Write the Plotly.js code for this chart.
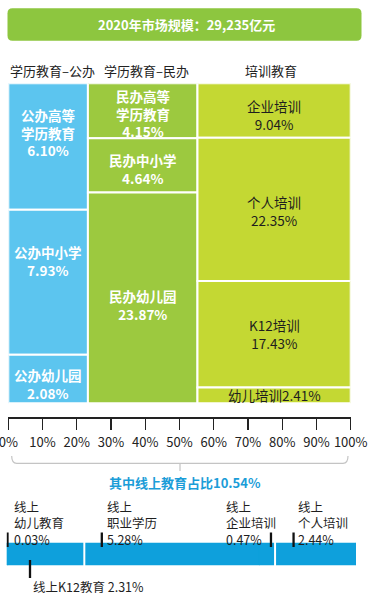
<!DOCTYPE html>
<html>
<head>
<meta charset="utf-8">
<script src="https://cdn.plot.ly/plotly-3.0.1.min.js"></script>
<style>html,body{margin:0;padding:0;background:#fff;}#chart{width:370px;height:598px;}</style>
</head>
<body>
<div id="chart"></div>
<script>
// ---------- data ----------
const marketTitle = '2020年市场规模：29,235亿元';
const colNames = ['学历教育–公办', '学历教育–民办', '培训教育'];
// column widths (% of axis) as drawn in the reference
const colWidth = [23.25, 32.0, 44.75];
// cells, top to bottom within each column
const cellCol = [0, 0, 0, 1, 1, 1, 2, 2, 2, 2];
const cellName = ['公办高等<br>学历教育', '公办中小学', '公办幼儿园',
                  '民办高等<br>学历教育', '民办中小学', '民办幼儿园',
                  '企业培训', '个人培训', 'K12培训', '幼儿培训'];
const cellValue = [6.10, 7.93, 2.08, 4.15, 4.64, 23.87, 9.04, 22.35, 17.43, 2.41];
// drawn heights (% of column) as they appear in the reference
const cellDrawn = [39.5, 45.3, 15.2, 17.2, 16.9, 65.9, 17.0, 44.8, 33.3, 4.9];
const xTickVals = [0, 10, 20, 30, 40, 50, 60, 70, 80, 90, 100];

const onlineTitle = '其中线上教育占比10.54%';
const onlineName = ['线上<br>幼儿教育', '线上K12教育', '线上<br>职业学历', '线上<br>企业培训', '线上<br>个人培训'];
const onlineValue = [0.03, 2.31, 5.28, 0.47, 2.44];
const onlineBlock = [0, 0, 1, 1, 2];

// ---------- styles ----------
const W = 370, H = 598;
const px = v => v / W, py = v => 1 - v / H;
const colColor = ['#5cc5ef', '#9cc93f', '#c4d833'];
const colTextColor = ['#ffffff', '#ffffff', '#1e1e1e'];
const colTextWeight = ['bold', 'bold', 'normal'];
const labelJoin = ['<br>', '<br>', '<br>', '<br>', '<br>', '<br>', '<br>', '<br>', '<br>', ''];
const labelYShift = [14, 21, -5, -3, -4, -7, -4, -2, 0, 0];
const headerXShift = [4.5, 4, -3];
const onlineTickShift = [0.8, 22.3, 17.5, 11.5, 18.5];
const onlineTextShift = [5, 23, 21, -35, 21];
const onlineBelow = [false, true, false, false, false];
const FONT = '"Noto Sans CJK SC", "Noto Sans", sans-serif';
const BLUE = '#0ea0dc';

// ---------- geometry from data ----------
const colStart = [];
let acc = 0;
colWidth.forEach(w => { colStart.push(acc); acc += w; });
const colCenter = colWidth.map((w, i) => colStart[i] + w / 2);

const cellBase = [], cellX = [], cellW = [], cellColor = [];
const colTop = colWidth.map(() => 100);
cellCol.forEach((c, i) => {
  colTop[c] -= cellDrawn[i];
  cellBase.push(colTop[c]);
  cellX.push(colCenter[c]);
  cellW.push(colWidth[c]);
  cellColor.push(colColor[c]);
});

const onlineBase = [];
let oacc = 0;
onlineValue.forEach(v => { onlineBase.push(oacc); oacc += v; });
const onlineSum = oacc;

const traces = [
  {
    type: 'bar', x: cellX, y: cellDrawn, base: cellBase, width: cellW,
    marker: { color: cellColor, line: { color: '#ffffff', width: 2 } },
    hoverinfo: 'skip', xaxis: 'x', yaxis: 'y'
  },
  {
    type: 'bar', orientation: 'h', x: onlineValue, base: onlineBase,
    y: onlineValue.map(() => 0), width: 1,
    marker: { color: BLUE, line: { color: BLUE, width: 1 } },
    hoverinfo: 'skip', xaxis: 'x2', yaxis: 'y2'
  }
];

const annotations = [];
const shapes = [];

// banner
const bx0 = 7.5, bx1 = 361.5, by0 = 8.3, by1 = 40.7, r = 5;
shapes.push({
  type: 'path', xref: 'paper', yref: 'paper', layer: 'below',
  path: `M ${px(bx0 + r)},${py(by0)} L ${px(bx1 - r)},${py(by0)} Q ${px(bx1)},${py(by0)} ${px(bx1)},${py(by0 + r)} ` +
        `L ${px(bx1)},${py(by1 - r)} Q ${px(bx1)},${py(by1)} ${px(bx1 - r)},${py(by1)} ` +
        `L ${px(bx0 + r)},${py(by1)} Q ${px(bx0)},${py(by1)} ${px(bx0)},${py(by1 - r)} ` +
        `L ${px(bx0)},${py(by0 + r)} Q ${px(bx0)},${py(by0)} ${px(bx0 + r)},${py(by0)} Z`,
  fillcolor: '#8dc63f', line: { width: 0 }
});
annotations.push({
  xref: 'paper', yref: 'paper', x: px(186), y: py(25), text: '<b>' + marketTitle + '</b>',
  showarrow: false, font: { family: FONT, size: 13, color: '#ffffff' }, xanchor: 'center', yanchor: 'middle'
});

// column headers
colNames.forEach((n, i) => {
  annotations.push({
    xref: 'x', yref: 'paper', x: colCenter[i], y: py(70), xshift: headerXShift[i], text: n,
    showarrow: false, font: { family: FONT, size: 13, color: '#222222' }, xanchor: 'center', yanchor: 'middle'
  });
});

// cell labels
cellName.forEach((n, i) => {
  const c = cellCol[i];
  annotations.push({
    xref: 'x', yref: 'y', x: colCenter[c], y: cellBase[i] + cellDrawn[i] / 2, yshift: labelYShift[i],
    text: n + labelJoin[i] + cellValue[i].toFixed(2) + '%', showarrow: false,
    font: { family: FONT, size: 13.5, color: colTextColor[c], weight: colTextWeight[c] },
    xanchor: 'center', yanchor: 'middle', align: 'center'
  });
});

// brace under the axis
const bl = 11.7, br = 348, bt = 456, bh = 463.3, bm = 180;
shapes.push({
  type: 'path', xref: 'paper', yref: 'paper',
  path: `M ${px(bl)},${py(bt)} Q ${px(bl)},${py(bh)} ${px(bl + 5)},${py(bh)} L ${px(br - 5)},${py(bh)} Q ${px(br)},${py(bh)} ${px(br)},${py(bt)} ` +
        `M ${px(bm)},${py(bh)} L ${px(bm)},${py(471)}`,
  line: { color: '#c4c4c4', width: 1.2 }
});
annotations.push({
  xref: 'paper', yref: 'paper', x: px(185), y: py(482.5), text: '<b>' + onlineTitle + '</b>',
  showarrow: false, font: { family: FONT, size: 13, color: '#1b9dd8' }, xanchor: 'center', yanchor: 'middle'
});

// online bar dividers (between blocks)
onlineBlock.forEach((b, i) => {
  if (i > 0 && onlineBlock[i - 1] !== b) {
    shapes.push({
      type: 'line', xref: 'x2', yref: 'paper', x0: onlineBase[i], x1: onlineBase[i],
      y0: py(542), y1: py(566), line: { color: '#ffffff', width: 2 }
    });
  }
});

// online labels + tick marks
onlineName.forEach((n, i) => {
  const below = onlineBelow[i];
  shapes.push({
    type: 'line', xref: 'x2', xsizemode: 'pixel', xanchor: onlineBase[i],
    x0: onlineTickShift[i], x1: onlineTickShift[i], yref: 'paper',
    y0: below ? py(560) : py(532.5), y1: below ? py(578) : py(547),
    line: { color: '#111111', width: 2.3 }
  });
  annotations.push({
    xref: 'x2', yref: 'paper', x: onlineBase[i], xshift: onlineTextShift[i],
    y: below ? py(586) : py(522.5),
    text: n + (below ? ' ' : '<br>') + onlineValue[i].toFixed(2) + '%',
    showarrow: false, align: 'left', xanchor: 'left', yanchor: 'middle',
    font: { family: FONT, size: 12.5, color: '#1e1e1e' }
  });
});

const layout = {
  width: W, height: H,
  margin: { l: 0, r: 0, t: 0, b: 0, pad: 0 },
  paper_bgcolor: '#ffffff', plot_bgcolor: 'rgba(0,0,0,0)',
  showlegend: false, barmode: 'overlay',
  font: { family: FONT, color: '#222222' },
  xaxis: {
    domain: [px(8.3), px(350.7)], range: [0, 100], tickvals: xTickVals,
    ticktext: xTickVals.map(v => v + '%'), showgrid: false, zeroline: false,
    showline: true, linecolor: '#222222', linewidth: 1.3,
    ticks: 'outside', ticklen: 11, tickwidth: 1.3, tickcolor: '#222222',
    ticklabeloverflow: 'allow', ticklabelstandoff: 2,
    tickfont: { family: FONT, size: 13, color: '#222222' }, automargin: false, fixedrange: true
  },
  yaxis: {
    domain: [py(417.3), py(83.3)], range: [-4.375, 100], visible: false, fixedrange: true
  },
  xaxis2: {
    domain: [px(6.7), px(356)], range: [0, onlineSum], visible: false, anchor: 'y2', fixedrange: true
  },
  yaxis2: {
    domain: [py(565.3), py(542.7)], range: [-0.5, 0.5], visible: false, anchor: 'x2', fixedrange: true
  },
  shapes: shapes,
  annotations: annotations
};

Plotly.newPlot('chart', traces, layout, { displayModeBar: false, staticPlot: true });
</script>
</body>
</html>
